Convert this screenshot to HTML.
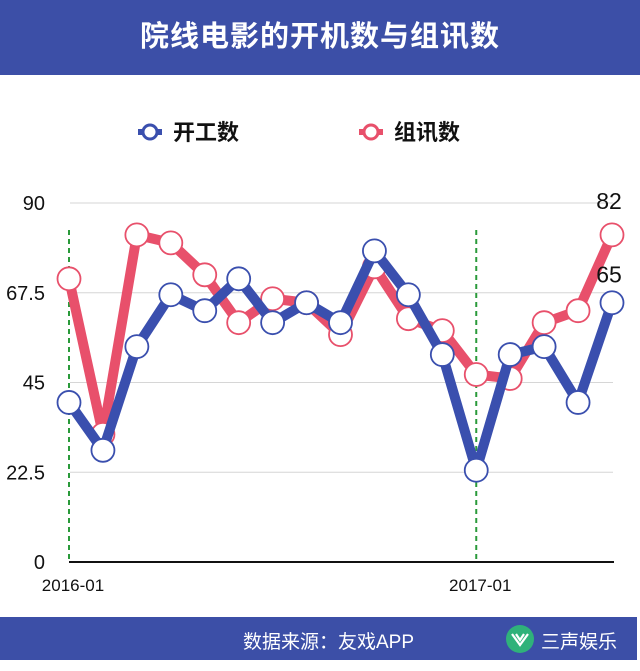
<!DOCTYPE html>
<html><head><meta charset="utf-8"><style>
body{margin:0;width:640px;height:671px;background:#fff;font-family:"Liberation Sans","Noto Sans CJK SC",sans-serif;overflow:hidden;position:relative}
#hdr{position:absolute;left:0;top:0;width:640px;height:75px;background:#3c4fa7;color:#fff;font-size:29px;font-weight:bold;text-align:center;line-height:75px;letter-spacing:1px}
#ftr{position:absolute;left:0;top:617px;width:637px;height:43px;background:#3c4fa7;color:#fff;font-size:19px}
</style></head><body>
<div id="hdr">院线电影的开机数与组讯数</div>
<svg width="640" height="671" style="position:absolute;left:0;top:0" id="chart"></svg>
<div id="ftr">
<span style="position:absolute;left:243px;top:10px">数据来源：友戏APP</span>
<svg style="position:absolute;left:505px;top:7px" width="30" height="30"><circle cx="15" cy="15" r="14" fill="#2fb27a"/><path d="M7 10 L15 21 L23 10 M11 10 L15 16 L19 10" stroke="#fff" stroke-width="2.2" fill="none"/></svg>
<span style="position:absolute;left:541px;top:10px">三声娱乐</span>
</div>
<script>
const categories=["2016-01","2016-02","2016-03","2016-04","2016-05","2016-06","2016-07","2016-08","2016-09","2016-10","2016-11","2016-12","2017-01","2017-02","2017-03","2017-04","2017-05"];
const startValues=[40,28,54,67,63,71,60,65,60,78,67,52,23,52,54,40,65];
const groupValues=[71,32,82,80,72,60,66,65,57,74,61,58,47,46,60,63,82];
const yTicks=[0,22.5,45,67.5,90];
const xLabels=["2016-01","2017-01"];
const NS="http://www.w3.org/2000/svg";
const svg=document.getElementById('chart');
const x0=69,x1=612,yb=562,yt=203,ymax=90;
const X=i=>x0+i*(x1-x0)/(categories.length-1);
const Y=v=>yb-v*(yb-yt)/ymax;
function mk(t,a){const e=document.createElementNS(NS,t);for(const k in a)e.setAttribute(k,a[k]);svg.appendChild(e);return e;}
yTicks.forEach(v=>{
 if(v>0){const g=mk('line',{x1:70,x2:613,y1:Y(v),y2:Y(v),stroke:'#d6d6d6','stroke-width':1});
 
 }
 const t=mk('text',{x:45,y:Y(v)+7,'text-anchor':'end','font-size':20,fill:'#111'});t.textContent=v;
 
 
});
xLabels.forEach(l=>{
 const i=categories.indexOf(l);
 const d=mk('line',{x1:X(i),x2:X(i),y1:230,y2:562,stroke:'#2a9a3a','stroke-width':2,'stroke-dasharray':'5,4'});
 
 
 const t=mk('text',{x:X(i)+4,y:591,'text-anchor':'middle','font-size':17,fill:'#111'});t.textContent=l;
 
 
});
const ax=mk('line',{x1:69,x2:614,y1:562,y2:562,stroke:'#111','stroke-width':2});


function series(vals,color,name){
 const p=mk('polyline',{points:vals.map((v,i)=>X(i)+','+Y(v)).join(' '),fill:'none',stroke:color,'stroke-width':10,'stroke-linejoin':'round'});
 
 
 return p;
}
function markers(vals,color,name){
 vals.forEach((v,i)=>{const c=mk('circle',{cx:X(i),cy:Y(v),r:11.5,fill:'#fff',stroke:color,'stroke-width':1.8});
 
 });
}
series(groupValues,'#e8506b','group-notice');
markers(groupValues,'#e8506b','group-notice');
series(startValues,'#3a4fae','start');
markers(startValues,'#3a4fae','start');
const n=categories.length-1;
const l1=mk('text',{x:X(n)-3,y:Y(groupValues[n])-26,'text-anchor':'middle','font-size':23,fill:'#111'});l1.textContent=groupValues[n];


const l2=mk('text',{x:X(n)-3,y:Y(startValues[n])-20,'text-anchor':'middle','font-size':23,fill:'#111'});l2.textContent=startValues[n];


[[150,'#3a4fae','开工数','legend-start'],[371,'#e8506b','组讯数','legend-group']].forEach(([x,c,t,nm])=>{
 const ln=mk('line',{x1:x-12,x2:x+12,y1:132,y2:132,stroke:c,'stroke-width':6});
 
 
 const ci=mk('circle',{cx:x,cy:132,r:7,fill:'#fff',stroke:c,'stroke-width':3});
 
 
 const tx=mk('text',{x:x+23,y:140,'font-size':22,'font-weight':'bold',fill:'#111'});tx.textContent=t;
 
 
});
</script>
</body></html>
